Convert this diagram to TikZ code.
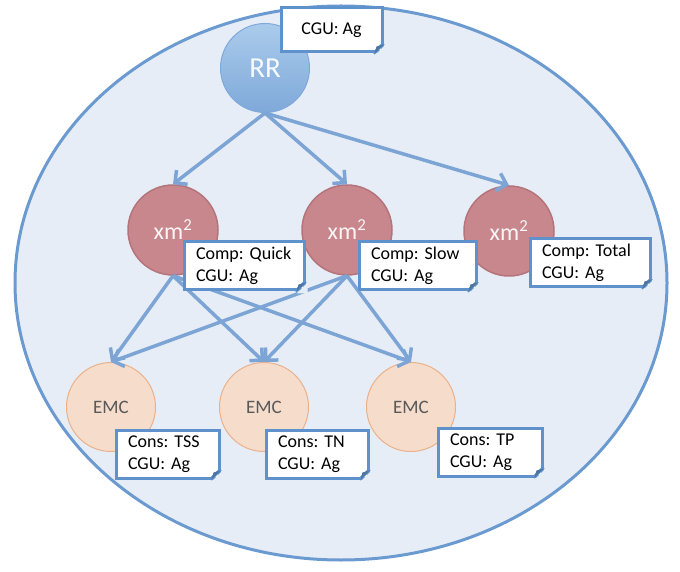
\documentclass[tikz,border=0pt]{standalone}
\usepackage{fontspec}
\setmainfont{Carlito}
\usepackage{tikz}
\usetikzlibrary{arrows.meta,positioning,calc}

\definecolor{panelfill}{HTML}{E6EDF6}
\definecolor{panelline}{HTML}{6A9AD0}
\definecolor{linkblue}{HTML}{7CA4D5}
\definecolor{rrtop}{HTML}{AACBEB}
\definecolor{rrbot}{HTML}{7FA9DA}
\definecolor{xmfill}{HTML}{C8878D}
\definecolor{xmline}{HTML}{B5747B}
\definecolor{emcfill}{HTML}{F6DCCB}
\definecolor{emcline}{HTML}{EBB18A}
\definecolor{noteline}{HTML}{5F92CC}

\frenchspacing
\begin{document}
\begin{tikzpicture}[x=1pt, y=1pt,
    rrnode/.style={circle, minimum size=89pt, top color=rrtop, bottom color=rrbot, draw=rrbot, line width=1pt, text=white!90!rrtop, font=\fontsize{29}{33}\selectfont},
    xmnode/.style={circle, minimum size=90pt, fill=xmfill, draw=xmline, line width=1.5pt, text=white!92!xmfill, font=\fontsize{24}{28}\selectfont},
    emcnode/.style={circle, minimum size=89pt, fill=emcfill, draw=emcline, line width=1pt, text=black!65, font=\fontsize{19}{23}\selectfont},
    notebox/.style={rectangle, draw=noteline, line width=3pt, fill=white, anchor=north west, align=left, text width=#1, inner xsep=12pt, minimum height=48pt, font=\fontsize{18}{22}\selectfont},
    link/.style={draw=linkblue, line width=3.5pt, -{Straight Barb[length=9pt,width=18pt]}}
]
    \useasboundingbox (0,0) rectangle (680,571);

    % Container
    \draw[fill=panelfill, draw=panelline, line width=3pt] (341,288) ellipse [x radius=326, y radius=277];

    % Circles
    \node[rrnode] (rr) at (265,503) {RR};
    \node[xmnode] (xa) at (173,341) {xm\textsuperscript{2}};
    \node[xmnode] (xb) at (347,341) {xm\textsuperscript{2}};
    \node[xmnode] (xc) at (509,340) {xm\textsuperscript{2}};
    \node[emcnode] (ea) at (111,164) {EMC};
    \node[emcnode] (eb) at (264,164) {EMC};
    \node[emcnode] (ec) at (411,164) {EMC};

    % Links
    \foreach \t in {xa,xb,xc}
        \draw[link] (rr.south) -- (\t.north);
    \foreach \s in {xa,xb}
        \foreach \t in {ea,eb,ec}
            \draw[link] (\s.south) -- (\t.north);

    % Notes
    \node[notebox=none, text width=, align=center, minimum width=101pt, minimum height=44pt, inner xsep=2pt] (rrnote) at (279.5,564.5) {CGU: Ag};
    \node[notebox=96pt] (qnote) at (182.5,330.5) {Comp: Quick\\CGU: Ag};
    \node[notebox=93pt] (snote) at (357.5,330.5) {Comp: Slow\\CGU: Ag};
    \node[notebox=96pt] (tnote) at (528.5,333.5) {Comp: Total\\CGU: Ag};
    \node[notebox=79pt] (tssnote) at (114.5,142.5) {Cons: TSS\\CGU: Ag};
    \node[notebox=78pt] (tnnote) at (264.5,142.5) {Cons: TN\\CGU: Ag};
    \node[notebox=80pt] (tpnote) at (436.5,144.5) {Cons: TP\\CGU: Ag};

    % Folded corners
    \foreach \b in {rrnote,qnote,snote,tnote,tssnote,tnnote,tpnote} {
        \fill[panelfill] ($(\b.south east)+(-9,-2)$) -- ($(\b.south east)+(2,-2)$) -- ($(\b.south east)+(2,9)$) -- cycle;
        \draw[noteline, line width=3pt, line join=round] ($(\b.south east)+(-10,0)$) -- ($(\b.south east)+(0,10)$);
        \fill[noteline!80!black] ($(\b.south east)+(-9,0)$) -- ($(\b.south east)+(0,9)$) -- ($(\b.south east)+(-7,7)$) -- cycle;
    }
\end{tikzpicture}
\end{document}
